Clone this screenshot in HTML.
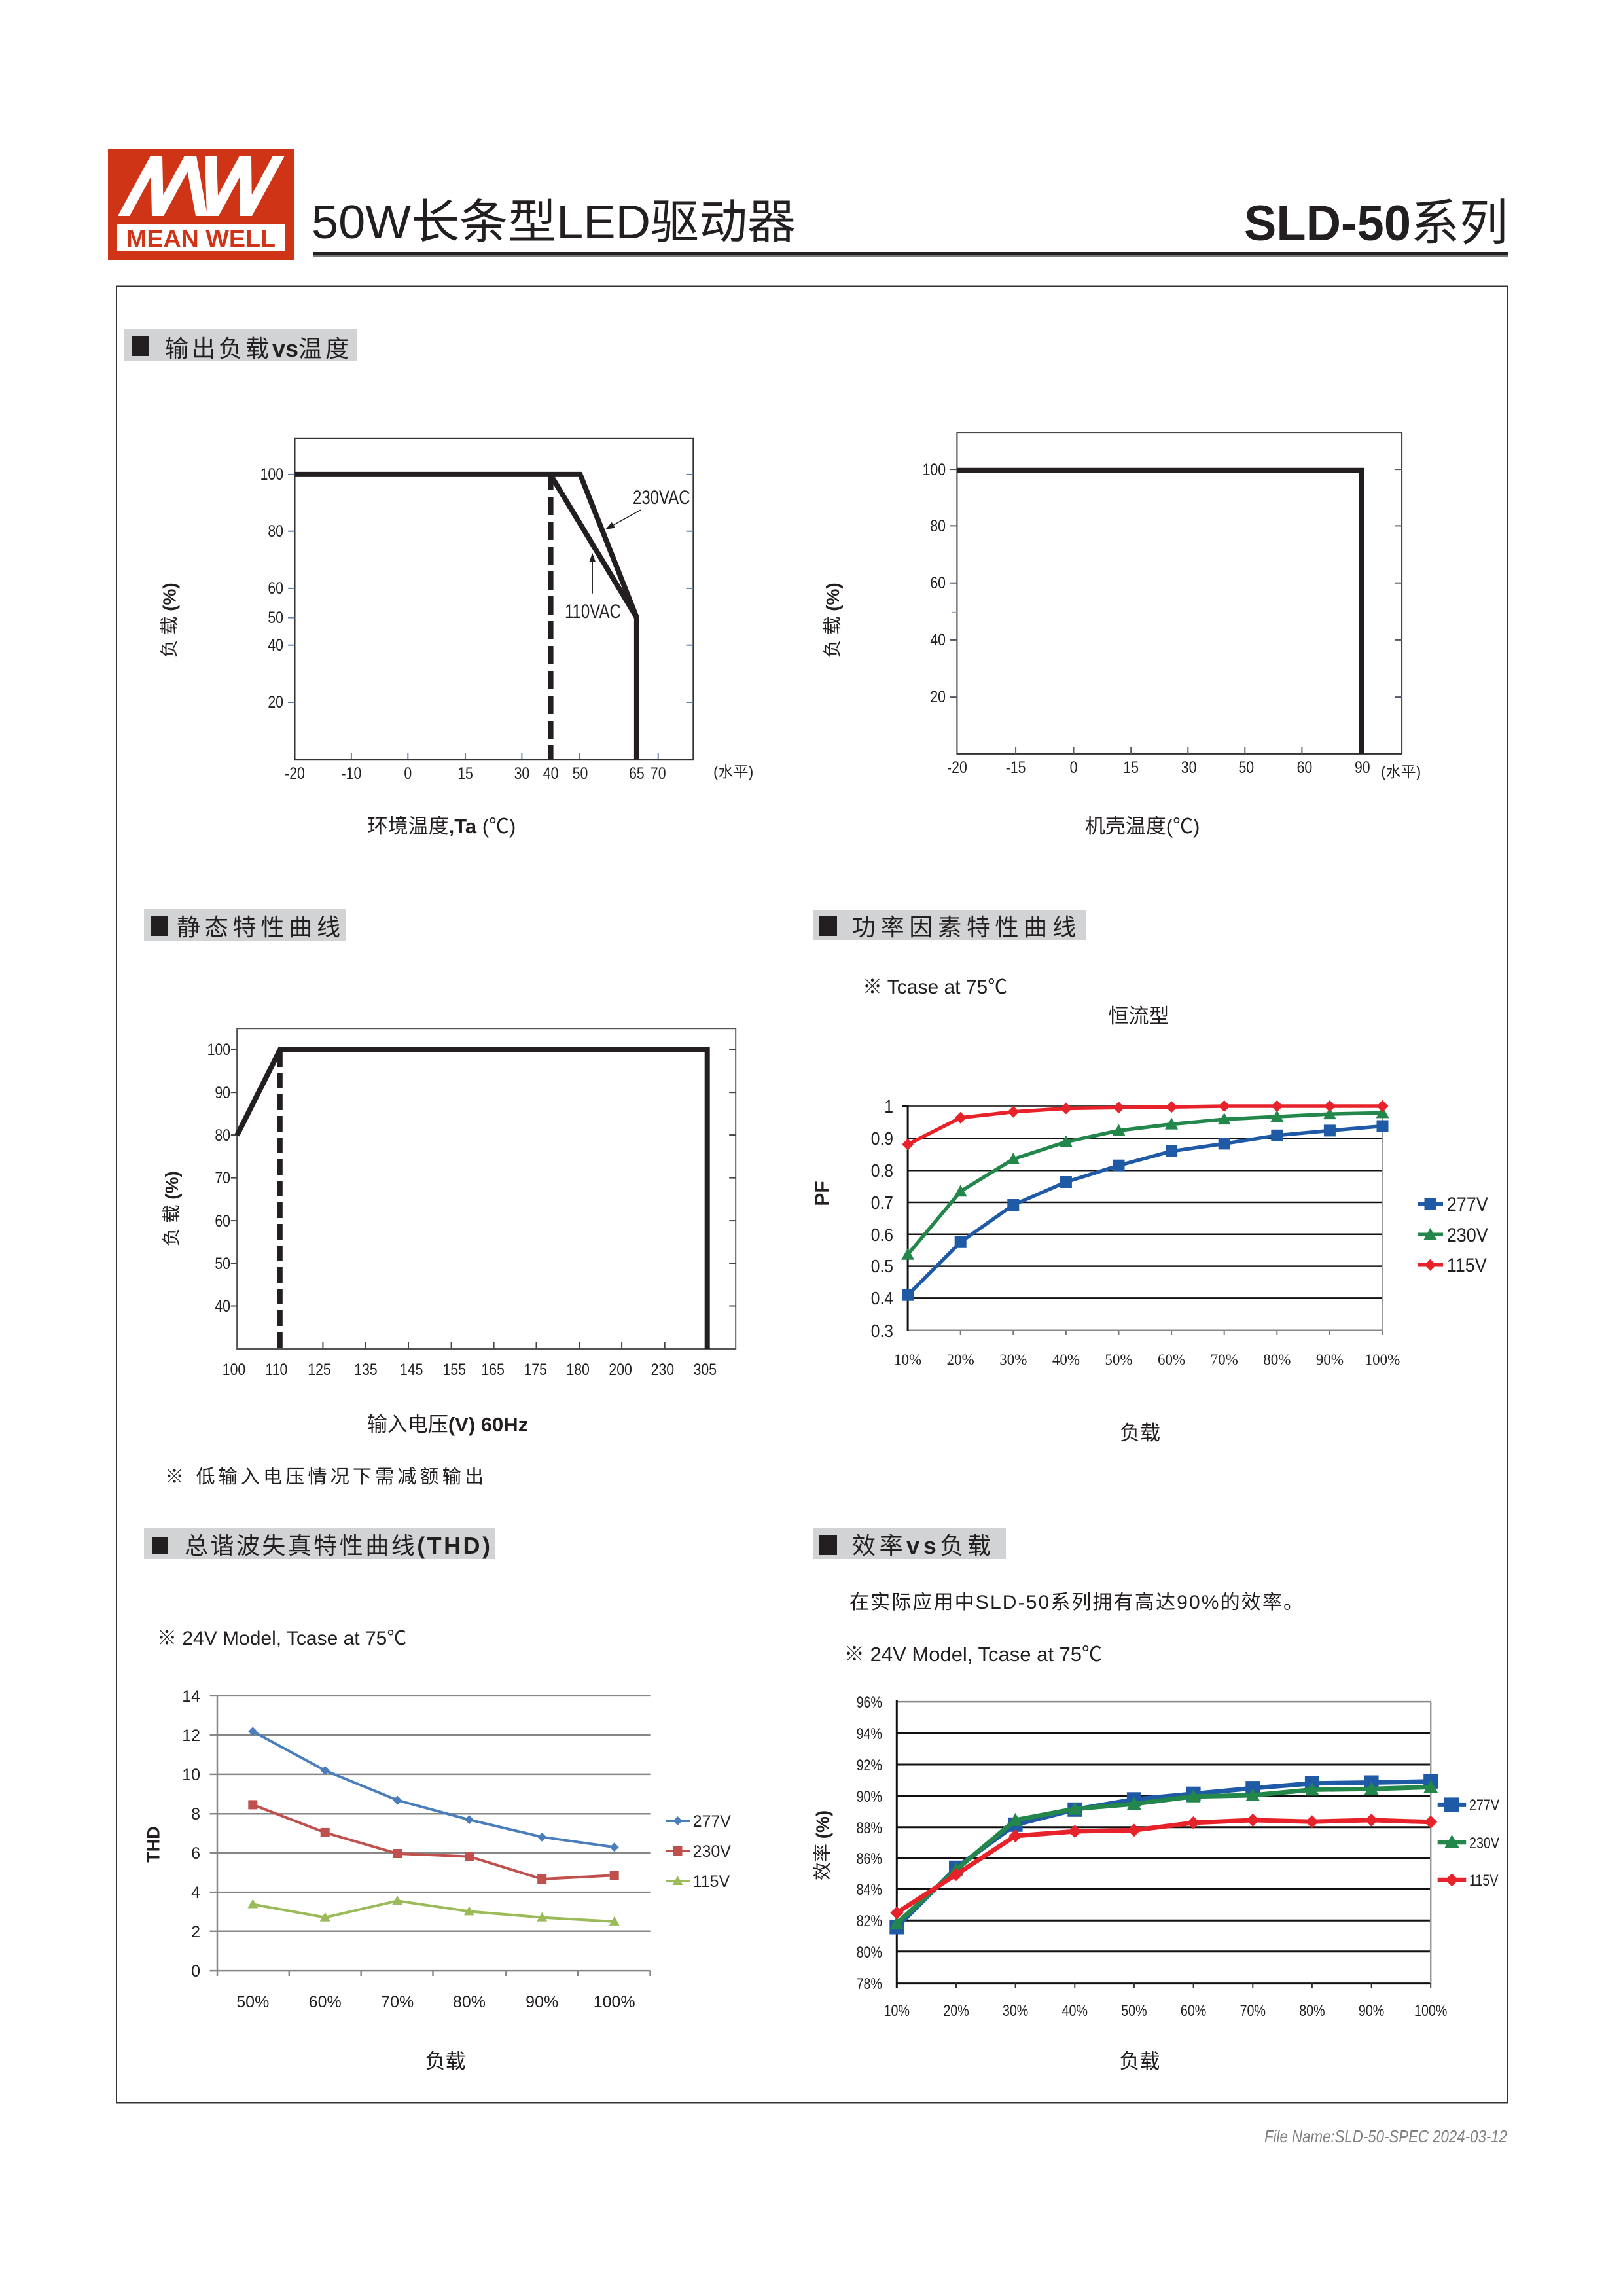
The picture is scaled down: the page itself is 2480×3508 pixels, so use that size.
<!DOCTYPE html>
<html><head><meta charset="utf-8"><style>
html,body{margin:0;padding:0;background:#fff;}
svg{display:block;}
.n{font-family:"Liberation Sans","Noto Sans CJK SC",sans-serif;}
.s{font-family:"Liberation Sans","Noto Sans CJK SC",sans-serif;}
.sf{font-family:"Liberation Serif","Noto Serif CJK SC",serif;}
.c{font-family:"Liberation Sans","Noto Sans CJK SC",sans-serif;}
</style></head><body>
<svg xmlns="http://www.w3.org/2000/svg" width="2480" height="3508" viewBox="0 0 2480 3508">
<defs>
<marker id="arr" markerWidth="14" markerHeight="10" refX="13" refY="5" orient="auto" markerUnits="userSpaceOnUse"><path d="M0,0 L14,5 L0,10 z" fill="#231f20"/></marker>
<marker id="pfB" markerWidth="20" markerHeight="20" refX="10" refY="10" markerUnits="userSpaceOnUse" overflow="visible"><rect x="1" y="1" width="18" height="18" fill="#1f5aa6"/></marker>
<marker id="pfG" markerWidth="22" markerHeight="20" refX="11" refY="11" markerUnits="userSpaceOnUse" overflow="visible"><path d="M11,1 L21,19 L1,19 z" fill="#23864a"/></marker>
<marker id="pfR" markerWidth="18" markerHeight="18" refX="9" refY="9" markerUnits="userSpaceOnUse" overflow="visible"><path d="M9,0 L18,9 L9,18 L0,9 z" fill="#e8222a"/></marker>
<marker id="efB" markerWidth="24" markerHeight="24" refX="12" refY="12" markerUnits="userSpaceOnUse" overflow="visible"><rect x="1" y="1" width="22" height="22" fill="#1f5aa6"/></marker>
<marker id="efG" markerWidth="24" markerHeight="22" refX="12" refY="12" markerUnits="userSpaceOnUse" overflow="visible"><path d="M12,1 L23,21 L1,21 z" fill="#23864a"/></marker>
<marker id="efR" markerWidth="20" markerHeight="20" refX="10" refY="10" markerUnits="userSpaceOnUse" overflow="visible"><path d="M10,0 L20,10 L10,20 L0,10 z" fill="#e8222a"/></marker>
<marker id="thB" markerWidth="14" markerHeight="14" refX="7" refY="7" markerUnits="userSpaceOnUse" overflow="visible"><path d="M7,0 L14,7 L7,14 L0,7 z" fill="#4a7ebb"/></marker>
<marker id="thR" markerWidth="14" markerHeight="14" refX="7" refY="7" markerUnits="userSpaceOnUse" overflow="visible"><rect x="0" y="0" width="14" height="14" fill="#c0504d"/></marker>
<marker id="thG" markerWidth="16" markerHeight="14" refX="8" refY="8" markerUnits="userSpaceOnUse" overflow="visible"><path d="M8,0 L16,14 L0,14 z" fill="#9bbb59"/></marker>
</defs>

<rect x="0" y="0" width="2480" height="3508" fill="#fff"/>

<!-- ===== HEADER ===== -->
<rect x="165" y="227" width="284" height="170" fill="#cf3417"/>
<g fill="#fff">
<polygon points="180,330 198,330 248,238 230,238"/>
<polygon points="230,238 248,238 250,330 232,330"/>
<polygon points="232,330 250,330 300,238 282,238"/>
<polygon points="282,238 300,238 317,330 299,330"/>
<polygon points="313,238 331,238 334,330 316,330"/>
<polygon points="316,330 334,330 384,238 366,238"/>
<polygon points="366,238 384,238 385,330 367,330"/>
<polygon points="367,330 385,330 435,238 417,238"/>
</g>
<rect x="179" y="343" width="256" height="40" fill="#fff"/>
<text class="s" x="307" y="377" font-size="36" font-weight="bold" fill="#cf3417" text-anchor="middle" textLength="228" lengthAdjust="spacingAndGlyphs">MEAN WELL</text>

<text class="s" x="476" y="364" font-size="72" fill="#231f20" textLength="740" lengthAdjust="spacingAndGlyphs">50W长条型LED驱动器</text>
<text class="s" x="1901" y="367" font-size="76" fill="#231f20" textLength="403" lengthAdjust="spacingAndGlyphs"><tspan font-weight="bold">SLD-50</tspan>系列</text>
<rect x="478" y="385" width="1826" height="5" fill="#231f20"/>
<rect x="478" y="390" width="1826" height="2" fill="#777"/>

<rect x="178" y="437.5" width="2125.5" height="2775" fill="none" stroke="#333" stroke-width="2"/>

<!-- ===== HEADINGS ===== -->
<rect x="190" y="503" width="356" height="49" fill="#d2d3d5"/>
<rect x="201" y="514" width="27" height="30" fill="#231f20"/>
<text class="c" x="252" y="545" font-size="36" fill="#231f20" letter-spacing="5">输出负载<tspan font-weight="bold" class="s" letter-spacing="0">vs</tspan>温度</text>

<rect x="220" y="1389" width="309" height="48" fill="#d2d3d5"/>
<rect x="230" y="1400" width="27" height="30" fill="#231f20"/>
<text class="c" x="270" y="1429" font-size="36" fill="#231f20" textLength="250" lengthAdjust="spacing">静态特性曲线</text>

<rect x="1242" y="1390" width="417" height="46" fill="#d2d3d5"/>
<rect x="1252" y="1400" width="27" height="30" fill="#231f20"/>
<text class="c" x="1302" y="1429" font-size="36" fill="#231f20" textLength="342" lengthAdjust="spacing">功率因素特性曲线</text>

<rect x="220" y="2334" width="537" height="48" fill="#d2d3d5"/>
<rect x="232" y="2349" width="25" height="26" fill="#231f20"/>
<text class="c" x="282" y="2374" font-size="36" fill="#231f20" textLength="467" lengthAdjust="spacing">总谐波失真特性曲线<tspan font-weight="bold">(THD)</tspan></text>

<rect x="1242" y="2334" width="295" height="48" fill="#d2d3d5"/>
<rect x="1252" y="2346" width="27" height="30" fill="#231f20"/>
<text class="c" x="1302" y="2374" font-size="36" fill="#231f20" textLength="212" lengthAdjust="spacing">效率<tspan font-weight="bold">vs</tspan>负载</text>

<!-- ===== CHART 1 ===== -->
<rect x="450.5" y="669.8" width="608.8" height="490.4" fill="none" stroke="#333" stroke-width="2"/>
<g stroke="#5a7fb0" stroke-width="2">
<line x1="440" y1="724.9" x2="450.5" y2="724.9"/><line x1="440" y1="811.7" x2="450.5" y2="811.7"/>
<line x1="440" y1="898.9" x2="450.5" y2="898.9"/><line x1="440" y1="943.5" x2="450.5" y2="943.5"/>
<line x1="440" y1="985.7" x2="450.5" y2="985.7"/><line x1="440" y1="1073" x2="450.5" y2="1073"/>
<line x1="1048.5" y1="724.9" x2="1059.3" y2="724.9"/><line x1="1048.5" y1="811.7" x2="1059.3" y2="811.7"/>
<line x1="1048.5" y1="898.9" x2="1059.3" y2="898.9"/><line x1="1048.5" y1="985.7" x2="1059.3" y2="985.7"/>
<line x1="1048.5" y1="1073" x2="1059.3" y2="1073"/>
<line x1="536.9" y1="1150" x2="536.9" y2="1160"/><line x1="623.3" y1="1150" x2="623.3" y2="1160"/>
<line x1="711" y1="1150" x2="711" y2="1160"/><line x1="797.4" y1="1150" x2="797.4" y2="1160"/>
<line x1="885.1" y1="1150" x2="885.1" y2="1160"/><line x1="1005.7" y1="1150" x2="1005.7" y2="1160"/>
</g>
<g class="n" font-size="25" fill="#231f20" text-anchor="end">
<text transform="matrix(.85 0 0 1 433 733)">100</text><text transform="matrix(.85 0 0 1 433 820)">80</text><text transform="matrix(.85 0 0 1 433 907)">60</text>
<text transform="matrix(.85 0 0 1 433 952)">50</text><text transform="matrix(.85 0 0 1 433 994)">40</text><text transform="matrix(.85 0 0 1 433 1081)">20</text>
</g>
<g class="n" font-size="25" fill="#231f20" text-anchor="middle">
<text transform="matrix(.85 0 0 1 450.5 1190)">-20</text><text transform="matrix(.85 0 0 1 536.9 1190)">-10</text><text transform="matrix(.85 0 0 1 623.3 1190)">0</text>
<text transform="matrix(.85 0 0 1 711 1190)">15</text><text transform="matrix(.85 0 0 1 797.4 1190)">30</text><text transform="matrix(.85 0 0 1 841.6 1190)">40</text>
<text transform="matrix(.85 0 0 1 886.5 1190)">50</text><text transform="matrix(.85 0 0 1 972.9 1190)">65</text><text transform="matrix(.85 0 0 1 1005.7 1190)">70</text>
</g>
<text class="c" x="1090" y="1187" font-size="23" fill="#231f20">(水平)</text>
<polyline points="450.5,724.9 886.5,724.9 972.9,943.5 972.9,1160.2" fill="none" stroke="#231f20" stroke-width="8" stroke-linejoin="miter"/>
<line x1="841.6" y1="726" x2="972.9" y2="943.5" stroke="#231f20" stroke-width="8"/>
<line x1="841.6" y1="721" x2="841.6" y2="1160.2" stroke="#231f20" stroke-width="8" stroke-dasharray="28,10"/>
<text class="n" transform="matrix(.8 0 0 1 967 770)" font-size="30" fill="#231f20">230VAC</text>
<text class="n" transform="matrix(.8 0 0 1 863 944)" font-size="30" fill="#231f20">110VAC</text>
<line x1="978.9" y1="779.1" x2="926" y2="808.5" stroke="#231f20" stroke-width="1.5" marker-end="url(#arr)"/>
<line x1="905.2" y1="906.7" x2="905.2" y2="846" stroke="#231f20" stroke-width="1.5" marker-end="url(#arr)"/>
<text class="c" x="675" y="1273" font-size="31" fill="#231f20" text-anchor="middle">环境温度<tspan font-weight="bold">,Ta </tspan>(℃)</text>
<text class="c" transform="translate(258.7,947.8) rotate(-90)" font-size="28" fill="#231f20" text-anchor="middle" dominant-baseline="central">负 载 <tspan font-weight="bold">(%)</tspan></text>

<!-- ===== CHART 2 ===== -->
<rect x="1462.4" y="661.1" width="679.7" height="490.8" fill="none" stroke="#333" stroke-width="2"/>
<g stroke="#556" stroke-width="2">
<line x1="1451" y1="717.1" x2="1462.4" y2="717.1"/><line x1="1451" y1="803.4" x2="1462.4" y2="803.4"/>
<line x1="1451" y1="890.7" x2="1462.4" y2="890.7"/><line x1="1451" y1="977.9" x2="1462.4" y2="977.9"/>
<line x1="1451" y1="1065.1" x2="1462.4" y2="1065.1"/><line x1="1455" y1="935.7" x2="1462.4" y2="935.7" stroke="#9ab"/>
<line x1="2132" y1="717.1" x2="2142.1" y2="717.1"/><line x1="2132" y1="803.4" x2="2142.1" y2="803.4"/>
<line x1="2132" y1="890.7" x2="2142.1" y2="890.7"/><line x1="2132" y1="977.9" x2="2142.1" y2="977.9"/>
<line x1="2132" y1="1065.1" x2="2142.1" y2="1065.1"/>
<line x1="1552.1" y1="1141" x2="1552.1" y2="1152"/><line x1="1640.5" y1="1141" x2="1640.5" y2="1152"/>
<line x1="1728.2" y1="1141" x2="1728.2" y2="1152"/><line x1="1815.3" y1="1141" x2="1815.3" y2="1152"/>
<line x1="1902.3" y1="1141" x2="1902.3" y2="1152"/><line x1="1989.4" y1="1141" x2="1989.4" y2="1152"/>
</g>
<g class="n" font-size="25" fill="#231f20" text-anchor="end">
<text transform="matrix(.85 0 0 1 1445 726)">100</text><text transform="matrix(.85 0 0 1 1445 812)">80</text><text transform="matrix(.85 0 0 1 1445 899)">60</text>
<text transform="matrix(.85 0 0 1 1445 986)">40</text><text transform="matrix(.85 0 0 1 1445 1073)">20</text>
</g>
<g class="n" font-size="25" fill="#231f20" text-anchor="middle">
<text transform="matrix(.85 0 0 1 1462.4 1181)">-20</text><text transform="matrix(.85 0 0 1 1552.1 1181)">-15</text><text transform="matrix(.85 0 0 1 1640.5 1181)">0</text>
<text transform="matrix(.85 0 0 1 1728.2 1181)">15</text><text transform="matrix(.85 0 0 1 1816.6 1181)">30</text><text transform="matrix(.85 0 0 1 1904.3 1181)">50</text>
<text transform="matrix(.85 0 0 1 1993.4 1181)">60</text><text transform="matrix(.85 0 0 1 2081.8 1181)">90</text>
</g>
<text class="c" x="2110" y="1187" font-size="23" fill="#231f20">(水平)</text>
<polyline points="1462.4,718.7 2080.5,718.7 2080.5,1151.9" fill="none" stroke="#231f20" stroke-width="8" stroke-linejoin="miter"/>
<text class="c" x="1745.6" y="1273" font-size="31" fill="#231f20" text-anchor="middle">机壳温度(℃)</text>
<text class="c" transform="translate(1271.8,947.8) rotate(-90)" font-size="28" fill="#231f20" text-anchor="middle" dominant-baseline="central">负 载 <tspan font-weight="bold">(%)</tspan></text>

<!-- ===== CHART 3 ===== -->
<rect x="362.1" y="1571.2" width="762.1" height="489.8" fill="none" stroke="#555" stroke-width="2"/>
<g stroke="#444" stroke-width="2">
<line x1="352.8" y1="1603.9" x2="362.1" y2="1603.9"/><line x1="352.8" y1="1669.2" x2="362.1" y2="1669.2"/>
<line x1="352.8" y1="1734.1" x2="362.1" y2="1734.1"/><line x1="352.8" y1="1799.6" x2="362.1" y2="1799.6"/>
<line x1="352.8" y1="1865.1" x2="362.1" y2="1865.1"/><line x1="352.8" y1="1930" x2="362.1" y2="1930"/>
<line x1="352.8" y1="1995.5" x2="362.1" y2="1995.5"/>
<line x1="1114.2" y1="1603.9" x2="1124.2" y2="1603.9"/><line x1="1114.2" y1="1669.2" x2="1124.2" y2="1669.2"/>
<line x1="1114.2" y1="1734.1" x2="1124.2" y2="1734.1"/><line x1="1114.2" y1="1799.6" x2="1124.2" y2="1799.6"/>
<line x1="1114.2" y1="1865.1" x2="1124.2" y2="1865.1"/><line x1="1114.2" y1="1930" x2="1124.2" y2="1930"/>
<line x1="1114.2" y1="1995.5" x2="1124.2" y2="1995.5"/>
<line x1="493.4" y1="2051" x2="493.4" y2="2061"/><line x1="559" y1="2051" x2="559" y2="2061"/>
<line x1="624" y1="2051" x2="624" y2="2061"/><line x1="689.6" y1="2051" x2="689.6" y2="2061"/>
<line x1="754.6" y1="2051" x2="754.6" y2="2061"/><line x1="819.5" y1="2051" x2="819.5" y2="2061"/>
<line x1="885.1" y1="2051" x2="885.1" y2="2061"/><line x1="950.1" y1="2051" x2="950.1" y2="2061"/>
<line x1="1015.7" y1="2051" x2="1015.7" y2="2061"/>
</g>
<g class="n" font-size="25" fill="#231f20" text-anchor="end">
<text transform="matrix(.85 0 0 1 352 1612)">100</text><text transform="matrix(.85 0 0 1 352 1678)">90</text><text transform="matrix(.85 0 0 1 352 1743)">80</text>
<text transform="matrix(.85 0 0 1 352 1808)">70</text><text transform="matrix(.85 0 0 1 352 1874)">60</text><text transform="matrix(.85 0 0 1 352 1939)">50</text>
<text transform="matrix(.85 0 0 1 352 2004)">40</text>
</g>
<g class="n" font-size="25" fill="#231f20" text-anchor="middle">
<text transform="matrix(.85 0 0 1 357.5 2101)">100</text><text transform="matrix(.85 0 0 1 422.4 2101)">110</text><text transform="matrix(.85 0 0 1 488 2101)">125</text>
<text transform="matrix(.85 0 0 1 559 2101)">135</text><text transform="matrix(.85 0 0 1 628.7 2101)">145</text><text transform="matrix(.85 0 0 1 694.3 2101)">155</text>
<text transform="matrix(.85 0 0 1 753.2 2101)">165</text><text transform="matrix(.85 0 0 1 818.2 2101)">175</text><text transform="matrix(.85 0 0 1 883.1 2101)">180</text>
<text transform="matrix(.85 0 0 1 948.1 2101)">200</text><text transform="matrix(.85 0 0 1 1012.4 2101)">230</text><text transform="matrix(.85 0 0 1 1077.3 2101)">305</text>
</g>
<polyline points="362.1,1734.7 427.8,1603.9 1080.7,1603.9 1080.7,2061" fill="none" stroke="#231f20" stroke-width="8" stroke-linejoin="miter"/>
<line x1="427.8" y1="1606" x2="427.8" y2="2061" stroke="#231f20" stroke-width="8" stroke-dasharray="24,9"/>
<text class="c" x="684" y="2187" font-size="31" fill="#231f20" text-anchor="middle">输入电压<tspan font-weight="bold">(V) 60Hz</tspan></text>
<text class="c" transform="translate(262,1846.7) rotate(-90)" font-size="28" fill="#231f20" text-anchor="middle" dominant-baseline="central">负 载 <tspan font-weight="bold">(%)</tspan></text>
<text class="c" x="252" y="2266" font-size="29" fill="#231f20" textLength="487" lengthAdjust="spacing">※ 低输入电压情况下需减额输出</text>

<!-- ===== CHART 4: PF ===== -->
<text class="n" x="1318" y="1518" font-size="30" fill="#231f20">※ Tcase at 75<tspan class="c">℃</tspan></text>
<text class="c" x="1740" y="1563" font-size="31" fill="#231f20" text-anchor="middle">恒流型</text>
<g stroke="#111" stroke-width="2.5">
<line x1="1387.1" y1="1739.4" x2="2112.5" y2="1739.4"/><line x1="1387.1" y1="1788.2" x2="2112.5" y2="1788.2"/>
<line x1="1387.1" y1="1837" x2="2112.5" y2="1837"/><line x1="1387.1" y1="1885.8" x2="2112.5" y2="1885.8"/>
<line x1="1387.1" y1="1934.6" x2="2112.5" y2="1934.6"/><line x1="1387.1" y1="1983.4" x2="2112.5" y2="1983.4"/>
</g>
<line x1="1387.1" y1="1690" x2="2112.5" y2="1690" stroke="#444" stroke-width="2.5"/>
<line x1="1387.1" y1="2032.7" x2="2112.5" y2="2032.7" stroke="#888" stroke-width="2.5"/>
<line x1="2112.5" y1="1690" x2="2112.5" y2="2032.7" stroke="#999" stroke-width="2"/>
<line x1="1387.1" y1="1688" x2="1387.1" y2="2034" stroke="#111" stroke-width="3"/>
<line x1="1379" y1="1690" x2="1387.1" y2="1690" stroke="#111" stroke-width="2"/>
<g stroke="#777" stroke-width="2">
<line x1="1467.7" y1="2032.7" x2="1467.7" y2="2039"/><line x1="1548.3" y1="2032.7" x2="1548.3" y2="2039"/>
<line x1="1628.9" y1="2032.7" x2="1628.9" y2="2039"/><line x1="1709.5" y1="2032.7" x2="1709.5" y2="2039"/>
<line x1="1790.1" y1="2032.7" x2="1790.1" y2="2039"/><line x1="1870.7" y1="2032.7" x2="1870.7" y2="2039"/>
<line x1="1951.3" y1="2032.7" x2="1951.3" y2="2039"/><line x1="2031.9" y1="2032.7" x2="2031.9" y2="2039"/>
<line x1="2112.5" y1="2032.7" x2="2112.5" y2="2039"/>
</g>
<g class="n" font-size="28" fill="#231f20" text-anchor="end">
<text transform="matrix(.88 0 0 1 1365 1700)">1</text><text transform="matrix(.88 0 0 1 1365 1749)">0.9</text><text transform="matrix(.88 0 0 1 1365 1798)">0.8</text>
<text transform="matrix(.88 0 0 1 1365 1847)">0.7</text><text transform="matrix(.88 0 0 1 1365 1896)">0.6</text><text transform="matrix(.88 0 0 1 1365 1944)">0.5</text>
<text transform="matrix(.88 0 0 1 1365 1993)">0.4</text><text transform="matrix(.88 0 0 1 1365 2043)">0.3</text>
</g>
<g class="sf" font-size="23" fill="#231f20" text-anchor="middle">
<text x="1387.1" y="2085">10%</text><text x="1467.7" y="2085">20%</text><text x="1548.3" y="2085">30%</text>
<text x="1628.9" y="2085">40%</text><text x="1709.5" y="2085">50%</text><text x="1790.1" y="2085">60%</text>
<text x="1870.7" y="2085">70%</text><text x="1951.3" y="2085">80%</text><text x="2031.9" y="2085">90%</text>
<text x="2112.5" y="2085">100%</text>
</g>
<polyline points="1387.1,1978.7 1467.7,1897.8 1548.3,1841 1628.9,1806 1709.5,1780.7 1790.1,1758.9 1870.7,1747.4 1951.3,1734.8 2031.9,1727.4 2112.5,1720.5" fill="none" stroke="#1f5aa6" stroke-width="5.5" marker-start="url(#pfB)" marker-mid="url(#pfB)" marker-end="url(#pfB)"/>
<polyline points="1387.1,1916.8 1467.7,1820.3 1548.3,1771 1628.9,1744.6 1709.5,1727.4 1790.1,1717.6 1870.7,1710.1 1951.3,1706.1 2031.9,1702.1 2112.5,1700.4" fill="none" stroke="#23864a" stroke-width="5.5" marker-start="url(#pfG)" marker-mid="url(#pfG)" marker-end="url(#pfG)"/>
<polyline points="1387.1,1748.6 1467.7,1707.8 1548.3,1698.7 1628.9,1693.5 1709.5,1692.3 1790.1,1691.2 1870.7,1690 1951.3,1690 2031.9,1690 2112.5,1690" fill="none" stroke="#e8222a" stroke-width="5.5" marker-start="url(#pfR)" marker-mid="url(#pfR)" marker-end="url(#pfR)"/>
<line x1="2166.5" y1="1839.3" x2="2205" y2="1839.3" stroke="#1f5aa6" stroke-width="5.5"/>
<rect x="2176.5" y="1830.3" width="18" height="18" fill="#1f5aa6"/>
<line x1="2166.5" y1="1886.3" x2="2205" y2="1886.3" stroke="#23864a" stroke-width="5.5"/>
<path d="M2185.5,1876 L2195.5,1894 L2175.5,1894 z" fill="#23864a"/>
<line x1="2166.5" y1="1932.8" x2="2205" y2="1932.8" stroke="#e8222a" stroke-width="5.5"/>
<path d="M2185.5,1923.8 L2194.5,1932.8 L2185.5,1941.8 L2176.5,1932.8 z" fill="#e8222a"/>
<g class="n" font-size="30" fill="#231f20">
<text transform="matrix(.9 0 0 1 2210.7 1850)">277V</text><text transform="matrix(.9 0 0 1 2210.7 1897)">230V</text><text transform="matrix(.9 0 0 1 2210.7 1943)">115V</text>
</g>
<text class="s" transform="translate(1256.3,1823.5) rotate(-90)" font-size="30" font-weight="bold" fill="#231f20" text-anchor="middle" dominant-baseline="central">PF</text>
<text class="c" x="1742" y="2200" font-size="31" fill="#231f20" text-anchor="middle">负载</text>

<!-- ===== CHART 5: THD ===== -->
<text class="n" x="240" y="2513" font-size="30" fill="#231f20">※ 24V Model, Tcase at 75<tspan class="c">℃</tspan></text>
<g stroke="#878787" stroke-width="2.5">
<line x1="332" y1="2590.9" x2="993.6" y2="2590.9"/><line x1="332" y1="2651.2" x2="993.6" y2="2651.2"/>
<line x1="332" y1="2710.9" x2="993.6" y2="2710.9"/><line x1="332" y1="2771.2" x2="993.6" y2="2771.2"/>
<line x1="332" y1="2830.8" x2="993.6" y2="2830.8"/><line x1="332" y1="2891.1" x2="993.6" y2="2891.1"/>
<line x1="332" y1="2950.8" x2="993.6" y2="2950.8"/><line x1="320.6" y1="3011.1" x2="993.6" y2="3011.1"/>
<line x1="332" y1="2589" x2="332" y2="3019"/>
<line x1="320.6" y1="2590.9" x2="332" y2="2590.9"/><line x1="320.6" y1="2651.2" x2="332" y2="2651.2"/>
<line x1="320.6" y1="2710.9" x2="332" y2="2710.9"/><line x1="320.6" y1="2771.2" x2="332" y2="2771.2"/>
<line x1="320.6" y1="2830.8" x2="332" y2="2830.8"/><line x1="320.6" y1="2891.1" x2="332" y2="2891.1"/>
<line x1="320.6" y1="2950.8" x2="332" y2="2950.8"/>
<line x1="441.8" y1="3011" x2="441.8" y2="3019"/><line x1="551.7" y1="3011" x2="551.7" y2="3019"/>
<line x1="661.5" y1="3011" x2="661.5" y2="3019"/><line x1="773.3" y1="3011" x2="773.3" y2="3019"/>
<line x1="883.1" y1="3011" x2="883.1" y2="3019"/><line x1="993.6" y1="3011" x2="993.6" y2="3019"/>
</g>
<g class="s" font-size="25" fill="#231f20" text-anchor="end">
<text x="306" y="2600">14</text><text x="306" y="2660">12</text><text x="306" y="2720">10</text>
<text x="306" y="2780">8</text><text x="306" y="2840">6</text><text x="306" y="2900">4</text>
<text x="306" y="2960">2</text><text x="306" y="3020">0</text>
</g>
<g class="s" font-size="25" fill="#231f20" text-anchor="middle">
<text x="386.3" y="3067">50%</text><text x="496.7" y="3067">60%</text><text x="607.2" y="3067">70%</text>
<text x="717" y="3067">80%</text><text x="828.2" y="3067">90%</text><text x="938.7" y="3067">100%</text>
</g>
<polyline points="386.3,2645.4 496.7,2705.1 607.2,2750.5 717,2780.3 828.2,2806.7 938.7,2822.2" fill="none" stroke="#4a7ebb" stroke-width="4" marker-start="url(#thB)" marker-mid="url(#thB)" marker-end="url(#thB)"/>
<polyline points="386.3,2757.4 496.7,2799.9 607.2,2832 717,2836.6 828.2,2871 938.7,2865.3" fill="none" stroke="#c0504d" stroke-width="4" marker-start="url(#thR)" marker-mid="url(#thR)" marker-end="url(#thR)"/>
<polyline points="386.3,2909.5 496.7,2929.6 607.2,2904.3 717,2920.4 828.2,2929.6 938.7,2935.9" fill="none" stroke="#9bbb59" stroke-width="4" marker-start="url(#thG)" marker-mid="url(#thG)" marker-end="url(#thG)"/>
<line x1="1017" y1="2782" x2="1054" y2="2782" stroke="#4a7ebb" stroke-width="4"/>
<path d="M1035.5,2775 L1042.5,2782 L1035.5,2789 L1028.5,2782 z" fill="#4a7ebb"/>
<line x1="1017" y1="2828" x2="1054" y2="2828" stroke="#c0504d" stroke-width="4"/>
<rect x="1028.5" y="2821" width="14" height="14" fill="#c0504d"/>
<line x1="1017" y1="2874" x2="1054" y2="2874" stroke="#9bbb59" stroke-width="4"/>
<path d="M1035.5,2866 L1043.5,2880 L1027.5,2880 z" fill="#9bbb59"/>
<g class="s" font-size="25" fill="#231f20">
<text x="1058.6" y="2791">277V</text><text x="1058.6" y="2837">230V</text><text x="1058.6" y="2883">115V</text>
</g>
<text class="s" transform="translate(234.3,2818) rotate(-90)" font-size="27" font-weight="bold" fill="#231f20" text-anchor="middle" dominant-baseline="central">THD</text>
<text class="c" x="680.5" y="3160" font-size="31" fill="#231f20" text-anchor="middle">负载</text>

<!-- ===== CHART 6: Efficiency ===== -->
<text class="c" x="1298" y="2458" font-size="30" fill="#231f20" textLength="693" lengthAdjust="spacing">在实际应用中<tspan class="n">SLD-50</tspan>系列拥有高达<tspan class="n">90%</tspan>的效率。</text>
<text class="n" x="1290" y="2538" font-size="31" fill="#231f20">※ 24V Model, Tcase at 75<tspan class="c">℃</tspan></text>
<g stroke="#111" stroke-width="3">
<line x1="1370.3" y1="2648.3" x2="2186.2" y2="2648.3"/><line x1="1370.3" y1="2696" x2="2186.2" y2="2696"/>
<line x1="1370.3" y1="2744.2" x2="2186.2" y2="2744.2"/><line x1="1370.3" y1="2791.8" x2="2186.2" y2="2791.8"/>
<line x1="1370.3" y1="2838.9" x2="2186.2" y2="2838.9"/><line x1="1370.3" y1="2886.5" x2="2186.2" y2="2886.5"/>
<line x1="1370.3" y1="2934.2" x2="2186.2" y2="2934.2"/><line x1="1370.3" y1="2981.8" x2="2186.2" y2="2981.8"/>
<line x1="1370.3" y1="3030.6" x2="2186.2" y2="3030.6"/>
</g>
<line x1="1370.3" y1="2600.1" x2="2186.2" y2="2600.1" stroke="#888" stroke-width="2.5"/>
<line x1="2186.2" y1="2600.1" x2="2186.2" y2="3030.6" stroke="#999" stroke-width="2.5"/>
<line x1="1370.3" y1="2598" x2="1370.3" y2="3038" stroke="#111" stroke-width="3"/>
<g stroke="#333" stroke-width="2">
<line x1="1461" y1="3030" x2="1461" y2="3038"/><line x1="1551.6" y1="3030" x2="1551.6" y2="3038"/>
<line x1="1642.3" y1="3030" x2="1642.3" y2="3038"/><line x1="1732.9" y1="3030" x2="1732.9" y2="3038"/>
<line x1="1823.6" y1="3030" x2="1823.6" y2="3038"/><line x1="1914.3" y1="3030" x2="1914.3" y2="3038"/>
<line x1="2004.9" y1="3030" x2="2004.9" y2="3038"/><line x1="2095.6" y1="3030" x2="2095.6" y2="3038"/>
<line x1="2186.2" y1="3030" x2="2186.2" y2="3038"/>
</g>
<g class="n" font-size="24" fill="#231f20" text-anchor="end">
<text transform="matrix(.82 0 0 1 1348 2609)">96%</text><text transform="matrix(.82 0 0 1 1348 2657)">94%</text><text transform="matrix(.82 0 0 1 1348 2705)">92%</text>
<text transform="matrix(.82 0 0 1 1348 2753)">90%</text><text transform="matrix(.82 0 0 1 1348 2801)">88%</text><text transform="matrix(.82 0 0 1 1348 2848)">86%</text>
<text transform="matrix(.82 0 0 1 1348 2895)">84%</text><text transform="matrix(.82 0 0 1 1348 2943)">82%</text><text transform="matrix(.82 0 0 1 1348 2991)">80%</text>
<text transform="matrix(.82 0 0 1 1348 3039)">78%</text>
</g>
<g class="n" font-size="24" fill="#231f20" text-anchor="middle">
<text transform="matrix(.82 0 0 1 1370.3 3080)">10%</text><text transform="matrix(.82 0 0 1 1461 3080)">20%</text><text transform="matrix(.82 0 0 1 1551.6 3080)">30%</text>
<text transform="matrix(.82 0 0 1 1642.3 3080)">40%</text><text transform="matrix(.82 0 0 1 1732.9 3080)">50%</text><text transform="matrix(.82 0 0 1 1823.6 3080)">60%</text>
<text transform="matrix(.82 0 0 1 1914.3 3080)">70%</text><text transform="matrix(.82 0 0 1 2004.9 3080)">80%</text><text transform="matrix(.82 0 0 1 2095.6 3080)">90%</text>
<text transform="matrix(.82 0 0 1 2186.2 3080)">100%</text>
</g>
<polyline points="1370.3,2944.5 1461,2853.8 1551.6,2787.8 1642.3,2764.8 1732.9,2749.3 1823.6,2740.7 1914.3,2732.1 2004.9,2724.7 2095.6,2723.5 2186.2,2721.8" fill="none" stroke="#1f5aa6" stroke-width="7" marker-start="url(#efB)" marker-mid="url(#efB)" marker-end="url(#efB)"/>
<polyline points="1370.3,2938.8 1461,2856.7 1551.6,2780.9 1642.3,2763.7 1732.9,2756.2 1823.6,2744.8 1914.3,2743 2004.9,2734.4 2095.6,2733.3 2186.2,2730.4" fill="none" stroke="#23864a" stroke-width="7" marker-start="url(#efG)" marker-mid="url(#efG)" marker-end="url(#efG)"/>
<polyline points="1370.3,2922.7 1461,2864.1 1551.6,2805 1642.3,2798.1 1732.9,2796.4 1823.6,2784.9 1914.3,2780.9 2004.9,2783.2 2095.6,2780.9 2186.2,2783.8" fill="none" stroke="#e8222a" stroke-width="7" marker-start="url(#efR)" marker-mid="url(#efR)" marker-end="url(#efR)"/>
<line x1="2196.7" y1="2757.4" x2="2240.2" y2="2757.4" stroke="#1f5aa6" stroke-width="7"/>
<rect x="2207" y="2746.4" width="22" height="22" fill="#1f5aa6"/>
<line x1="2196.7" y1="2814.8" x2="2240.2" y2="2814.8" stroke="#23864a" stroke-width="7"/>
<path d="M2218.5,2803 L2229.5,2823 L2207.5,2823 z" fill="#23864a"/>
<line x1="2196.7" y1="2872.2" x2="2240.2" y2="2872.2" stroke="#e8222a" stroke-width="7"/>
<path d="M2218.5,2862.2 L2228.5,2872.2 L2218.5,2882.2 L2208.5,2872.2 z" fill="#e8222a"/>
<g class="n" font-size="24" fill="#231f20">
<text transform="matrix(.82 0 0 1 2245 2766)">277V</text><text transform="matrix(.82 0 0 1 2245 2824)">230V</text><text transform="matrix(.82 0 0 1 2245 2881)">115V</text>
</g>
<text class="c" transform="translate(1256.3,2819.4) rotate(-90)" font-size="28" fill="#231f20" text-anchor="middle" dominant-baseline="central">效率 <tspan font-weight="bold">(%)</tspan></text>
<text class="c" x="1741.4" y="3160" font-size="31" fill="#231f20" text-anchor="middle">负载</text>

<text class="s" x="1932" y="3273" font-size="26" font-style="italic" fill="#808080" textLength="371" lengthAdjust="spacingAndGlyphs">File Name:SLD-50-SPEC 2024-03-12</text>
</svg>
</body></html>
